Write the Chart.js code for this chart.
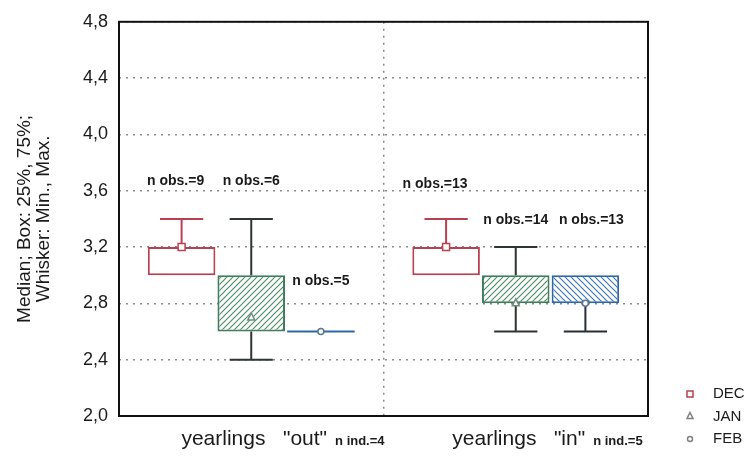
<!DOCTYPE html>
<html>
<head>
<meta charset="utf-8">
<script src="https://cdn.jsdelivr.net/npm/chart.js@4"></script>
<style>
  html, body { margin: 0; padding: 0; background: #fff; }
</style>
</head>
<body>
<canvas id="myChart" width="756" height="464"></canvas>
<script>
// data
const groups = ['yearlings   "out"', 'yearlings   "in"'];
const nInd = ['n ind.=4', 'n ind.=5'];
const months = ['DEC', 'JAN', 'FEB'];
const minVals = [[3.0, 3.0], [2.4, 2.6], [2.6, 2.6]];
const q1Vals  = [[3.0, 3.0], [2.6, 2.8], [2.6, 2.8]];
const medVals = [[3.2, 3.2], [2.7, 2.8], [2.6, 2.8]];
const q3Vals  = [[3.2, 3.2], [3.0, 3.0], [2.6, 3.0]];
const maxVals = [[3.4, 3.4], [3.4, 3.2], [2.6, 3.0]];
const nObs    = [[9, 13], [6, 14], [5, 13]];
const yTicks  = [2.0, 2.4, 2.8, 3.2, 3.6, 4.0, 4.4, 4.8];

const FONT = '"Liberation Sans", Arial, sans-serif';
Chart.defaults.font.family = FONT;
Chart.defaults.color = '#1a1a1a';

const lineCol = ['#b8404f', '#2d3631', '#262e38'];
const boxCol = ['#b8404f', '#3f7d5a', '#2f67a5'];
const markCol = ['#b8404f', '#6f8f7c', '#5a7690'];

const ctx = document.getElementById('myChart').getContext('2d');

function hatch(color, dir) {
  const s = 6;
  const c = document.createElement('canvas');
  c.width = s; c.height = s;
  const g = c.getContext('2d');
  g.fillStyle = '#fff';
  g.fillRect(0, 0, s, s);
  g.strokeStyle = color;
  g.lineWidth = 1.2;
  g.beginPath();
  if (dir > 0) {
    g.moveTo(0, s); g.lineTo(s, 0);
    g.moveTo(-1, 1); g.lineTo(1, -1);
    g.moveTo(s - 1, s + 1); g.lineTo(s + 1, s - 1);
  } else {
    g.moveTo(0, 0); g.lineTo(s, s);
    g.moveTo(-1, s - 1); g.lineTo(1, s + 1);
    g.moveTo(s - 1, -1); g.lineTo(s + 1, 1);
  }
  g.stroke();
  return ctx.createPattern(c, 'repeat');
}

const fills = ['#ffffff', hatch('#4f9068', 1), hatch('#3f78b8', -1)];

function marker(c, d, x, y, r, stroke) {
  c.save();
  c.fillStyle = '#fff';
  c.strokeStyle = stroke;
  c.lineWidth = 1.5;
  c.beginPath();
  if (d === 0) {
    c.rect(x - r, y - r, r * 2, r * 2);
  } else if (d === 1) {
    c.moveTo(x, y - r - 1);
    c.lineTo(x + r, y + r - 1);
    c.lineTo(x - r, y + r - 1);
    c.closePath();
  } else {
    c.arc(x, y, r - 0.5, 0, Math.PI * 2);
  }
  c.fill();
  c.stroke();
  c.restore();
}

const boxExtras = {
  id: 'boxExtras',
  afterDatasetsDraw(chart, args, opts) {
    const c = chart.ctx, y = chart.scales.y, xs = chart.scales.x, area = chart.chartArea;
    c.save();
    months.forEach((m, d) => {
      chart.getDatasetMeta(d).data.forEach((bar, i) => {
        const x = bar.x, w = bar.width, cap = w * 0.64;
        const pMin = y.getPixelForValue(minVals[d][i]);
        const pQ1 = y.getPixelForValue(q1Vals[d][i]);
        const pQ3 = y.getPixelForValue(q3Vals[d][i]);
        const pMax = y.getPixelForValue(maxVals[d][i]);
        c.strokeStyle = lineCol[d];
        c.lineWidth = 2;
        c.beginPath();
        if (maxVals[d][i] > q3Vals[d][i]) {
          c.moveTo(x, pQ3); c.lineTo(x, pMax);
          c.moveTo(x - cap / 2, pMax); c.lineTo(x + cap / 2, pMax);
        }
        if (minVals[d][i] < q1Vals[d][i]) {
          c.moveTo(x, pQ1); c.lineTo(x, pMin);
          c.moveTo(x - cap / 2, pMin); c.lineTo(x + cap / 2, pMin);
        }
        c.stroke();
        if (q1Vals[d][i] === q3Vals[d][i]) {
          c.strokeStyle = boxCol[d];
          c.beginPath();
          c.moveTo(x - w / 2, pQ1); c.lineTo(x + w / 2, pQ1);
          c.stroke();
        }
        marker(c, d, x, y.getPixelForValue(medVals[d][i]), 3.5, markCol[d]);

        c.fillStyle = '#1a1a1a';
        c.font = 'bold 14px ' + FONT;
        c.textAlign = 'center';
        c.textBaseline = 'middle';
        c.fillText('n obs.=' + nObs[d][i], x + opts.labelDx[d][i], y.getPixelForValue(opts.labelY[d][i]));
      });
    });

    // frame round the plot
    c.strokeStyle = '#111';
    c.lineWidth = 2;
    c.strokeRect(area.left, area.top, area.width, area.height);

    // category labels with small suffix
    c.fillStyle = '#1a1a1a';
    c.textBaseline = 'alphabetic';
    groups.forEach((g, i) => {
      const cx = xs.getPixelForValue(i) + 3;
      c.font = '21px ' + FONT;
      c.textAlign = 'center';
      const w = c.measureText(g).width;
      c.fillText(g, cx, area.bottom + 29);
      c.font = 'bold 13px ' + FONT;
      c.textAlign = 'left';
      c.fillText(nInd[i], cx + w / 2 + 8, area.bottom + 29);
    });

    // legend
    months.forEach((m, d) => {
      const ly = opts.legendY + d * 22.5;
      marker(c, d, opts.legendX, ly, 3, d === 0 ? markCol[0] : '#808080');
      c.fillStyle = '#1a1a1a';
      c.font = '15px ' + FONT;
      c.textAlign = 'left';
      c.textBaseline = 'middle';
      c.fillText(m, opts.legendX + 23, ly);
    });
    c.restore();
  }
};

new Chart(ctx, {
  type: 'bar',
  data: {
    labels: groups,
    datasets: months.map((m, d) => ({
      label: m,
      data: q1Vals[d].map((v, i) => [v, q3Vals[d][i]]),
      backgroundColor: fills[d],
      borderColor: boxCol[d],
      borderWidth: 2,
      borderSkipped: false,
      categoryPercentage: 0.79,
      barPercentage: 0.97
    }))
  },
  options: {
    responsive: false,
    animation: false,
    layout: { padding: { top: 15, right: 108, bottom: 0, left: 14 } },
    plugins: {
      legend: { display: false },
      tooltip: { enabled: false },
      boxExtras: {
        labelY: [[3.67, 3.65], [3.67, 3.39], [2.96, 3.39]],
        labelDx: [[-6, -11], [0, 0], [0, 6]],
        legendX: 690,
        legendY: 394
      }
    },
    scales: {
      x: {
        offset: true,
        ticks: { display: false },
        grid: { display: true, color: '#8a8a8a', lineWidth: 1.5, drawTicks: false, offset: true },
        border: { display: false, dash: [2, 5] },
        afterFit(s) { s.height = 48; }
      },
      y: {
        min: yTicks[0],
        max: yTicks[yTicks.length - 1],
        afterBuildTicks(s) { s.ticks = yTicks.map(v => ({ value: v })); },
        ticks: {
          padding: 11,
          font: { size: 18 },
          color: '#1a1a1a',
          callback: v => v.toFixed(1).replace('.', ',')
        },
        grid: { color: '#8a8a8a', lineWidth: 1.5, drawTicks: false },
        border: { display: false, dash: [2, 5] },
        title: {
          display: true,
          text: ['Median; Box: 25%, 75%;', 'Whisker: Min., Max.'],
          font: { size: 19, lineHeight: 1.0 },
          color: '#1a1a1a',
          padding: { top: 1, bottom: 0 }
        },
        afterFit(s) { s.width = 105; }
      }
    }
  },
  plugins: [boxExtras]
});
</script>
</body>
</html>
